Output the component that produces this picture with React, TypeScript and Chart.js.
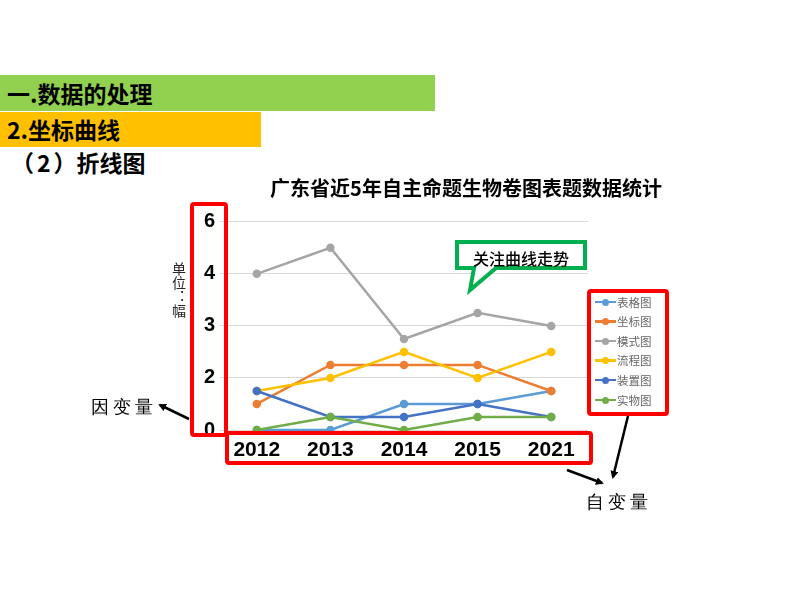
import React, { useEffect, useRef } from "react";
import { Chart, registerables } from "chart.js";

Chart.register(...registerables);

// ---- data ----
const years = ["2012", "2013", "2014", "2015", "2021"];
const seriesNames = ["表格图", "坐标图", "模式图", "流程图", "装置图", "实物图"];
const seriesColors = ["#5B9BD5", "#ED7D31", "#A5A5A5", "#FFC000", "#4472C4", "#70AD47"];
// values are in gridline units of the original chart (8 gridline steps)
const tableValues = [0, 0, 1, 1, 1.5];
const coordValues = [1, 2.5, 2.5, 2.5, 1.5];
const modelValues = [6, 7, 3.5, 4.5, 4];
const flowValues = [1.5, 2, 3, 2, 3];
const deviceValues = [1.5, 0.5, 0.5, 1, 0.5];
const objectValues = [0, 0.5, 0, 0.5, 0.5];
const yTickValues = [0, 2, 4, 6, 8];
const yTickLabels = ["0", "2", "3", "4", "6"];

const chartTitle = "广东省近5年自主命题生物卷图表题数据统计";

const CJK = "'Noto Sans CJK SC', 'Noto Sans', sans-serif";

export default function App() {
  const canvasRef = useRef<HTMLCanvasElement | null>(null);

  useEffect(() => {
    const allValues = [tableValues, coordValues, modelValues, flowValues, deviceValues, objectValues];
    const datasets = seriesNames.map((name, i) => ({
      label: name,
      data: allValues[i],
      borderColor: seriesColors[i],
      backgroundColor: seriesColors[i],
      pointBackgroundColor: seriesColors[i],
      pointBorderColor: seriesColors[i],
      pointRadius: 3,
      borderWidth: 2.5,
      tension: 0,
      clip: false as const,
      order: seriesNames.length - i,
    }));
    const chart = new Chart(canvasRef.current!, {
      type: "line",
      data: { labels: years, datasets },
      options: {
        animation: false,
        responsive: false,
        layout: { padding: 0 },
        plugins: {
          legend: { display: false },
          tooltip: { enabled: false },
          title: {
            display: true,
            text: chartTitle,
            color: "#000000",
            font: { family: CJK, size: 20, weight: "bold" },
            padding: { top: 16, bottom: 21.8 },
          },
        },
        scales: {
          x: {
            type: "category",
            offset: true,
            grid: { display: false, drawTicks: false },
            border: { display: false },
            ticks: {
              color: "#000000",
              padding: 8,
              maxRotation: 0,
              font: { family: "'Liberation Sans', Arial, sans-serif", size: 21, weight: "bold" },
            },
            afterFit: (s: any) => {
              s.height = 32;
            },
          },
          y: {
            type: "linear",
            position: "left",
            min: 0,
            max: 8,
            grid: { color: "#D9D9D9", lineWidth: 1, drawTicks: false },
            border: { display: false },
            ticks: {
              stepSize: 1,
              padding: 5,
              color: "#000000",
              font: { family: "'Liberation Sans', Arial, sans-serif", size: 20, weight: "bold" },
              callback: (v: any) => {
                const idx = yTickValues.indexOf(Number(v));
                return idx >= 0 ? yTickLabels[idx] : "";
              },
            },
            afterFit: (s: any) => {
              s.width = 70;
            },
          },
          ySpace: {
            type: "linear",
            position: "right",
            display: true,
            grid: { display: false, drawOnChartArea: false, drawTicks: false },
            border: { display: false },
            ticks: { display: false },
            afterFit: (s: any) => {
              s.width = 194;
            },
          },
        },
      },
    });
    return () => chart.destroy();
  }, []);

  const legendRows = seriesNames.map((n, i) => (
    <div
      key={n}
      style={{ position: "absolute", left: 0, top: 0.5 + i * 19.6, height: 20, width: 78, display: "flex", alignItems: "center" }}
    >
      <div style={{ position: "relative", width: 21, height: 20, marginLeft: 4 }}>
        <div style={{ position: "absolute", left: 0, top: 9, width: 21, height: 2.5, background: seriesColors[i] }} />
        <div
          style={{ position: "absolute", left: 7, top: 7, width: 7, height: 7, borderRadius: 4, background: seriesColors[i] }}
        />
      </div>
      <span style={{ fontFamily: CJK, fontSize: 11.5, color: "#666666", marginLeft: 1 }}>{n}</span>
    </div>
  ));

  return (
    <div
      style={{
        position: "absolute",
        left: 0,
        top: 0,
        width: 794,
        height: 596,
        background: "#ffffff",
        overflow: "hidden",
        fontFamily: CJK,
      }}
    >
      {/* slide header */}
      <div
        style={{
          position: "absolute", left: 0, top: 75, width: 435, height: 36, background: "#92D050",
          fontWeight: "bold", fontSize: 23, lineHeight: "36px", paddingLeft: 7, boxSizing: "border-box", color: "#000",
        }}
      >
        一.数据的处理
      </div>
      <div
        style={{
          position: "absolute", left: 0, top: 112, width: 261, height: 35, background: "#FFC000",
          fontWeight: "bold", fontSize: 23, lineHeight: "35px", paddingLeft: 7, boxSizing: "border-box", color: "#000",
        }}
      >
        2.坐标曲线
      </div>
      <div
        style={{ position: "absolute", left: 11, top: 148, fontWeight: "bold", fontSize: 23, lineHeight: "28px", color: "#000" }}
      >
        （<span style={{ padding: "0 3px" }}>2</span>）折线图
      </div>

      {/* chart */}
      <div style={{ position: "absolute", left: 150, top: 160, width: 632, height: 302 }}>
        <canvas ref={canvasRef} width={632} height={302} style={{ display: "block" }} />
      </div>

      {/* y axis unit */}
      <div
        style={{
          position: "absolute", left: 171, top: 262, writingMode: "vertical-rl", fontSize: 14,
          lineHeight: "15px", color: "#262626",
        }}
      >
        单位：幅
      </div>

      {/* annotations */}
      <svg width={794} height={596} style={{ position: "absolute", left: 0, top: 0 }}>
        <defs>
          <marker id="ah" markerWidth="8" markerHeight="8" refX="6" refY="4" orient="auto" markerUnits="userSpaceOnUse">
            <path d="M0,0 L8,4 L0,8 Z" fill="#000" />
          </marker>
        </defs>
        <rect x={192} y={204} width={34} height={231} rx={2} fill="none" stroke="#FF0000" strokeWidth={4} />
        <rect x={227} y={433} width={364} height={30} rx={2} fill="none" stroke="#FF0000" strokeWidth={4} />
        <rect x={589} y={291} width={78} height={123} rx={2} fill="#ffffff" stroke="#FF0000" strokeWidth={4} />
        <path
          d="M457,242 H585 V268 H496 L470,290 L474,268 H457 Z"
          fill="#ffffff"
          stroke="#00B050"
          strokeWidth={4}
          strokeLinejoin="miter"
        />
        <line x1={189} y1={419} x2={160} y2={405} stroke="#000" strokeWidth={2.5} markerEnd="url(#ah)" />
        <line x1={628} y1={416} x2={613} y2={477} stroke="#000" strokeWidth={2.5} markerEnd="url(#ah)" />
        <line x1={567} y1={470} x2={602} y2={483} stroke="#000" strokeWidth={2.5} markerEnd="url(#ah)" />
      </svg>

      {/* legend */}
      <div style={{ position: "absolute", left: 591, top: 291, width: 76, height: 122 }}>{legendRows}</div>

      {/* callout text */}
      <div
        style={{
          position: "absolute", left: 457, top: 247, width: 128, textAlign: "center", fontSize: 16,
          lineHeight: "22px", color: "#000", fontWeight: 500,
        }}
      >
        关注曲线走势
      </div>

      <div style={{ position: "absolute", left: 91, top: 395, fontSize: 18, letterSpacing: 4, lineHeight: "24px", color: "#000", fontFamily: "serif" }}>
        因变量
      </div>
      <div style={{ position: "absolute", left: 586, top: 490, fontSize: 18, letterSpacing: 4, lineHeight: "24px", color: "#000", fontFamily: "serif" }}>
        自变量
      </div>
    </div>
  );
}
